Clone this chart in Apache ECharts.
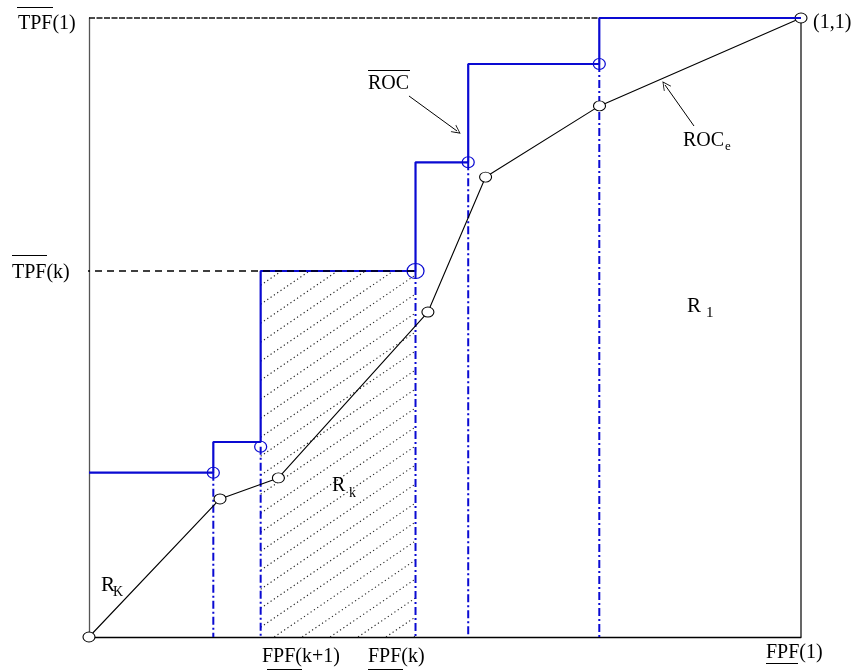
<!DOCTYPE html>
<html>
<head>
<meta charset="utf-8">
<script src="https://cdn.jsdelivr.net/npm/echarts@6/dist/echarts.min.js"></script>
<style>
html,body{margin:0;padding:0;background:#fff;}
#c{width:854px;height:671px;}
</style>
</head>
<body>
<div id="c"></div>
<script>
// ---- data ----
const rocEx = [0, 0.184, 0.266, 0.476, 0.557, 0.717, 1];
const rocEy = [0, 0.223, 0.257, 0.525, 0.743, 0.858, 1];
const stepX = [0, 0.1746, 0.2411, 0.4586, 0.5326, 0.7167, 1];
const stepY = [0.2654, 0.3150, 0.5913, 0.7669, 0.9257, 1, 1];
const markX = [0.1746, 0.2411, 0.4586, 0.5326, 0.7167];
const markY = [0.2654, 0.3074, 0.5913, 0.7669, 0.9257];
const markBig = [false, false, true, false, false];
const hatchX = [0.2411, 0.4586];
const hatchY = [0, 0.5913];
const tpfK = 0.5913;
const tpfKStart = -0.0084;
const arrowROC = [[0.4494, 0.8740], [0.5169, 0.8174]];
const arrowROCe = [[0.8497, 0.8255], [0.8090, 0.8918]];
const yTickLabels = ['TPF(1)', 'TPF(k)'];
const xTickLabels = ['FPF(k+1)', 'FPF(k)', 'FPF(1)'];

const BLUE = '#0a0ad2';
const FONT = 'Liberation Serif';

const series = [];

// hatched region (custom)
series.push({
  type: 'custom',
  z: 1,
  clip: false,
  data: [[hatchX[0], hatchY[0], hatchX[1], hatchY[1]]],
  renderItem: function (params, api) {
    const p1 = api.coord([api.value(0), api.value(1)]);
    const p2 = api.coord([api.value(2), api.value(3)]);
    const x1 = Math.min(p1[0], p2[0]), x2 = Math.max(p1[0], p2[0]);
    const y1 = Math.min(p1[1], p2[1]), y2 = Math.max(p1[1], p2[1]);
    const s = 0.68, sp = 19;
    const children = [];
    const cMin = y1 + s * x1, cMax = y2 + s * x2;
    let c0 = 513 + s * 261;
    while (c0 > cMin) c0 -= sp;
    for (let c = c0; c <= cMax + sp; c += sp) {
      let ax = x1, ay = c - s * x1;
      let bx = x2, by = c - s * x2;
      if (ay > y2) { ax = (c - y2) / s; ay = y2; }
      if (by < y1) { bx = (c - y1) / s; by = y1; }
      if (ax >= bx || ay < y1 || by > y2) continue;
      children.push({
        type: 'line',
        shape: { x1: ax, y1: ay, x2: bx, y2: by },
        style: { stroke: '#222', lineWidth: 1.1, lineDash: [1.2, 2.8] }
      });
    }
    return { type: 'group', children: children };
  }
});

// top dashed TPF(1) line
series.push({
  type: 'line', z: 2, silent: true, clip: false, showSymbol: false,
  data: [[0, 1], [1, 1]],
  lineStyle: { color: '#111', width: 1.5, type: [6, 1.5] }
});
// right border
series.push({
  type: 'line', z: 2, silent: true, clip: false, showSymbol: false,
  data: [[1, 0], [1, 1]],
  lineStyle: { color: '#000', width: 1.2 }
});

// blue dash-dot verticals
markX.forEach(function (x, i) {
  series.push({
    type: 'line', z: 3, silent: true, clip: false, showSymbol: false,
    data: [[x, markY[i]], [x, 0]],
    lineStyle: { color: BLUE, width: 2, type: [8, 3, 2, 3] }
  });
});

// ROC_e black line
series.push({
  type: 'line', z: 4, silent: true, clip: false,
  data: rocEx.map(function (x, i) { return [x, rocEy[i]]; }),
  symbol: 'circle', symbolSize: [12, 10], showSymbol: true,
  lineStyle: { color: '#000', width: 1.1 },
  itemStyle: { color: '#fff', borderColor: '#000', borderWidth: 1 }
});

// blue step ROC bar
series.push({
  type: 'line', z: 5, silent: true, clip: false, showSymbol: false,
  step: 'end',
  data: stepX.map(function (x, i) { return [x, stepY[i]]; }),
  lineStyle: { color: BLUE, width: 2.2 }
});

// blue circles
series.push({
  type: 'scatter', z: 6, silent: true, clip: false,
  symbol: 'circle',
  data: markX.map(function (x, i) {
    return { value: [x, markY[i]], symbolSize: markBig[i] ? [17, 15] : [12, 11] };
  }),
  itemStyle: { color: 'rgba(255,255,255,0)', borderColor: BLUE, borderWidth: 1.2, opacity: 1 }
});

// TPF(k) dashed line
series.push({
  type: 'line', z: 7, silent: true, clip: false, showSymbol: false,
  data: [[tpfKStart, tpfK], [hatchX[1], tpfK]],
  lineStyle: { color: '#000', width: 1.3, type: [7, 5] }
});

// arrows
const chevron = 'path://M5,0 L10,12 L9,12 L5,2.4 L1,12 L0,12 Z';
series.push({
  type: 'lines', coordinateSystem: 'cartesian2d', z: 8, silent: true,
  symbol: ['none', chevron], symbolSize: [0, 9],
  data: [{ coords: arrowROC }, { coords: arrowROCe }],
  lineStyle: { color: '#000', width: 1, opacity: 1 }
});

const option = {
  animation: false,
  backgroundColor: '#fff',
  grid: { left: 89, right: 53, top: 18, bottom: 34 },
  xAxis: {
    type: 'value', min: 0, max: 1,
    axisLine: { show: true, onZero: false, lineStyle: { color: '#000', width: 1.3 } },
    axisTick: { show: false }, axisLabel: { show: false }, splitLine: { show: false }
  },
  yAxis: {
    type: 'value', min: 0, max: 1,
    axisLine: { show: true, onZero: false, lineStyle: { color: '#555', width: 1.3 } },
    axisTick: { show: false }, axisLabel: { show: false }, splitLine: { show: false }
  },
  series: series
};

const chart = echarts.init(document.getElementById('c'), null, { renderer: 'canvas' });
chart.setOption(option);

function txt(text, x, y, size) {
  return {
    type: 'text', z: 100, x: x, y: y,
    style: { text: text, font: size + 'px "' + FONT + '"', fill: '#000', verticalAlign: 'middle', align: 'left' }
  };
}
function ln(x1, y1, x2, y2) {
  return { type: 'line', z: 100, shape: { x1: x1, y1: y1, x2: x2, y2: y2 }, style: { stroke: '#000', lineWidth: 1 } };
}

const g = [];
const pT1 = chart.convertToPixel({ gridIndex: 0 }, [0, 1]);
const pTk = chart.convertToPixel({ gridIndex: 0 }, [0, tpfK]);
g.push(txt(yTickLabels[0], 18, pT1[1] + 5.5, 20));
g.push(ln(17, 7.5, 53, 7.5));
g.push(txt(yTickLabels[1], 12, pTk[1] + 1.5, 20));
g.push(ln(12, 255.5, 47, 255.5));

g.push(txt(xTickLabels[0], 262, 657, 20));
g.push(ln(267, 669.5, 302, 669.5));
g.push(txt(xTickLabels[1], 368, 657, 20));
g.push(ln(368, 669.5, 403, 669.5));
g.push(txt(xTickLabels[2], 766, 653, 20));
g.push(ln(766, 663.5, 798, 663.5));

g.push(txt('(1,1)', 813, 23, 20));
g.push(txt('ROC', 683, 140.5, 20));
g.push(txt('e', 725, 147, 13));
g.push(txt('ROC', 368, 83.5, 20));
g.push(ln(368, 70.5, 410, 70.5));

g.push(txt('R', 101, 585.5, 21));
g.push(txt('K', 113, 592, 14));
g.push(txt('R', 332, 485.5, 20));
g.push(txt('k', 349, 493, 14));
g.push(txt('R', 687, 306.5, 21));
g.push(txt('1', 706, 313, 15));

chart.setOption({ graphic: g });
</script>
</body>
</html>
